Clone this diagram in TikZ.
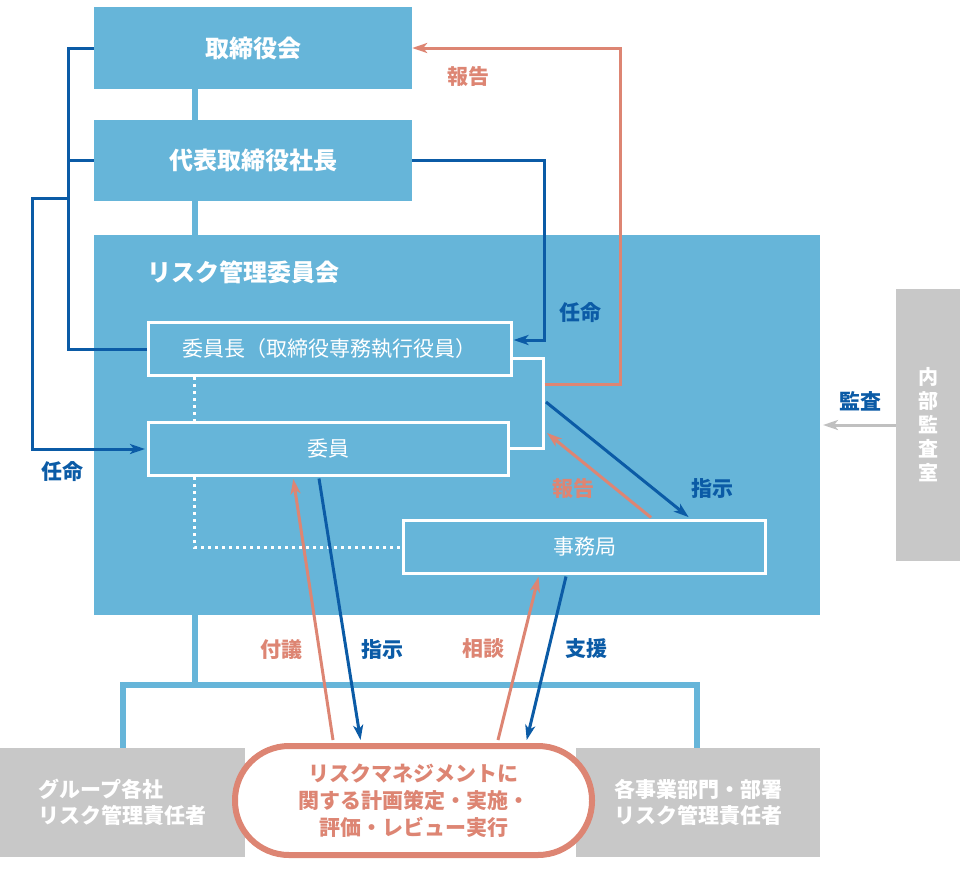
\documentclass[tikz,border=0pt]{standalone}
\usepackage{fontspec}
\setmainfont{Noto Sans CJK JP}
\usetikzlibrary{arrows.meta,calc}
\definecolor{lb}{HTML}{66B5D9}
\definecolor{db}{HTML}{0B5BA6}
\definecolor{sal}{HTML}{DD8573}
\definecolor{gr}{HTML}{C8C8C8}
\definecolor{grarrow}{HTML}{C0C0C0}
\begin{document}
\begin{tikzpicture}[x=1pt,y=-1pt,
  topbox/.style={fill=lb,text=white,inner sep=0pt,minimum width=318pt,minimum height=82pt,font=\bfseries\fontsize{24}{28}\selectfont},
  inbox/.style={draw=white,line width=3pt,text=white,inner sep=0pt,minimum height=53pt,font=\fontsize{21}{25}\selectfont},
  graybox/.style={fill=gr,text=white,inner sep=0pt,minimum height=109pt,font=\bfseries\fontsize{21}{26}\selectfont},
  lbl/.style={font=\bfseries\fontsize{21}{25}\selectfont},
  lbline/.style={draw=lb,line width=6pt,line join=miter},
  dbline/.style={draw=db,line width=3pt,line join=miter},
  salline/.style={draw=sal,line width=3pt,line join=miter},
  wline/.style={draw=white,line width=3pt,line join=miter},
  dotline/.style={draw=white,line width=3pt,dash pattern=on 3pt off 4pt},
  tip/.style={-{Stealth[length=15pt,width=10pt,inset=4pt]}}
]
\useasboundingbox (0,0) rectangle (960,870);

\coordinate (spine) at (195,0);
\coordinate (lx) at (68,0);
\coordinate (lx2) at (32,198);
\coordinate (gx) at (123,685);
\coordinate (dx) at (697,685);

% top boxes
\node[topbox] (board) at (253,48) {取締役会};
\node[topbox,minimum height=81pt] (pres) at (253,160.5) {代表取締役社長};
% committee
\node[fill=lb,inner sep=0pt,minimum width=726pt,minimum height=380pt] (rmc) at (457,425) {};
\node[anchor=west,text=white,inner sep=0pt,font=\bfseries\fontsize{24}{28}\selectfont] (rmctitle) at (147,272) {リスク管理委員会};

% light blue connectors
\draw[lbline] (board.south -| spine) -- (pres.north -| spine);
\draw[lbline] (pres.south -| spine) -- (rmc.north -| spine);

% bottom boxes
\node[graybox,minimum width=245pt,align=left] (group) at (122.5,802.5) {グループ各社\\リスク管理責任者};
\node[graybox,minimum width=244pt,align=center] (dept) at (698,802.5) {各事業部門・部署\\リスク管理責任者};
\node[draw=sal,line width=6pt,fill=white,rounded corners=54pt,minimum width=357pt,minimum height=109pt,inner sep=0pt,text=sal,align=center,font=\bfseries\fontsize{21}{27}\selectfont] (pill) at (413.5,800.5) {リスクマネジメントに\\関する計画策定・実施・\\評価・レビュー実行};

\draw[lbline] (rmc.south -| spine) -- (spine |- gx);
\draw[lbline] (gx |- group.north) -- (gx) -- (dx) -- (dx |- dept.north);

% inner boxes
\node[inbox,minimum width=363pt] (chair) at (329.5,349) {委員長（取締役専務執行役員）};
\node[inbox,minimum width=360pt] (member) at (328.5,449) {委員};
\node[inbox,minimum width=362pt] (office) at (584.5,547) {事務局};

% bracket
\coordinate (brA) at (543,358);
\coordinate (brB) at (543,448);
\draw[wline] (chair.east |- brA) -- (brA) -- (brB) -- (member.east |- brB);

% dotted
\coordinate (dt) at (194,547);
\draw[dotline] (chair.south -| dt) -- (member.north -| dt);
\draw[dotline] (member.south -| dt) -- (dt) -- (office.west);

% left blue
\draw[dbline] (board.west) -- (board.west -| lx) -- (lx |- chair.west) -- (chair.west);
\draw[dbline] (pres.west) -- (pres.west -| lx);
\draw[dbline,tip,shorten >=2pt] (lx |- lx2) -- (lx2) -- (lx2 |- member.west) -- (member.west);
\node[lbl,text=db] (l1) at (62,472) {任命};

% right blue
\coordinate (c1) at (544,340);
\draw[dbline,tip,shorten >=1pt] (pres.east) -| (c1) -- (c1 -| chair.east);
\node[lbl,text=db] (l2) at (580,313) {任命};

% red report to board
\coordinate (rp) at (620,384);
\draw[salline,tip] ($(brA |- rp)+(1.5,0)$) -- (rp) |- (board.east);
\node[lbl,text=sal] (l3) at (468,77) {報告};

% diagonals
\coordinate (d1s) at (546,402);
\coordinate (d1e) at (691,0);
\draw[dbline,tip,shorten >=3pt] (d1s) -- (office.north -| d1e);
\node[lbl,text=db] (l4) at (712,489) {指示};
\coordinate (d2s) at (651,0);
\coordinate (d2e) at (547,433);
\draw[salline,tip] ($(office.north -| d2s)+(0,-1.5)$) -- (d2e);
\node[lbl,text=sal] (l5) at (573,489) {報告};

% vertical arrows
\coordinate (v1a) at (333,0);
\coordinate (v1b) at (293,0);
\draw[salline,tip,shorten >=2pt] ($(pill.north -| v1a)+(0,-3)$) -- (member.south -| v1b);
\coordinate (v2a) at (319,0);
\coordinate (v2b) at (361,0);
\draw[dbline,tip,shorten >=3pt] ($(member.south -| v2a)+(0,1.5)$) -- (pill.north -| v2b);
\coordinate (v3a) at (498,0);
\coordinate (v3b) at (539,0);
\draw[salline,tip,shorten >=2pt] ($(pill.north -| v3a)+(0,-3)$) -- (office.south -| v3b);
\coordinate (v4a) at (566,0);
\coordinate (v4b) at (526,0);
\draw[dbline,tip,shorten >=3pt] ($(office.south -| v4a)+(0,1.5)$) -- (pill.north -| v4b);
\node[lbl,text=sal] (l6) at (281,650) {付議};
\node[lbl,text=db] (l7) at (382,650) {指示};
\node[lbl,text=sal] (l8) at (483,649) {相談};
\node[lbl,text=db] (l9) at (586,649) {支援};

% audit
\node[fill=gr,text=white,inner sep=0pt,minimum width=64pt,minimum height=272pt,align=center,font=\bfseries\fontsize{20}{24}\selectfont] (audit) at (928,425) {内\\部\\監\\査\\室};
\coordinate (ae) at (823,425);
\draw[draw=grarrow,line width=3pt,tip] (audit.west) -- (ae);
\node[lbl,text=db] (l10) at (860,401) {監査};
\end{tikzpicture}
\end{document}
